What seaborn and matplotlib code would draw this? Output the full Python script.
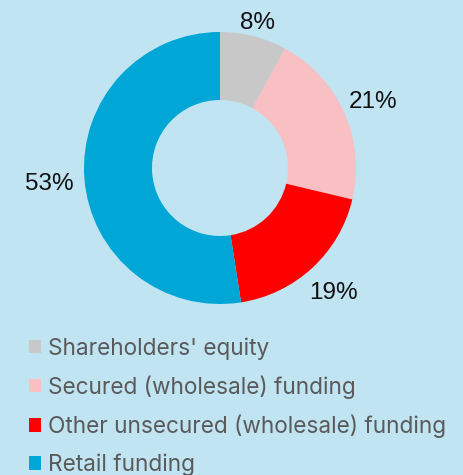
import matplotlib
matplotlib.use("Agg")
import matplotlib.pyplot as plt
from matplotlib.patches import Patch
import seaborn as sns

categories = ["Shareholders' equity", "Secured (wholesale) funding",
              "Other unsecured (wholesale) funding", "Retail funding"]
values = [8, 21, 19, 53]
labels = ["8%", "21%", "19%", "53%"]
colors = ["#C8C8C8", "#F8C0C2", "#FF0000", "#00A6D6"]
label_dist = [1.12, 1.23, 1.23, 1.26]

BG = "#C0E4F2"
sns.set_theme(style="white")
plt.rcParams["font.family"] = ["Liberation Sans", "DejaVu Sans"]

fig = plt.figure(figsize=(4.64, 4.75), dpi=100, facecolor=BG)
ax = fig.add_axes([84 / 464, 1 - 304 / 475, 272 / 464, 272 / 475])
ax.set_facecolor(BG)

wedges, texts = ax.pie(values, labels=labels, colors=colors, startangle=90,
                       counterclock=False, radius=1.0, labeldistance=1.0,
                       wedgeprops=dict(width=0.5, linewidth=0),
                       textprops=dict(fontsize=17.5, color="#111111"))
for t, d in zip(texts, label_dist):
    x, y = t.get_position()
    t.set_position((x * d, y * d))
    t.set_ha("center")
    t.set_va("center_baseline")
ax.set_xlim(-1, 1)
ax.set_ylim(-1, 1)
ax.set_aspect("equal")
ax.axis("off")

handles = [Patch(facecolor=c, edgecolor="none") for c in colors]
leg = fig.legend(handles, categories, loc="upper left",
                 bbox_to_anchor=(29 / 464, 1 - 337 / 475),
                 frameon=False, borderpad=0, borderaxespad=0,
                 handlelength=0.55, handleheight=0.55, handletextpad=0.28,
                 labelspacing=0.69,
                 prop=dict(family=["Inter", "DejaVu Sans"], size=16.3))
for t in leg.get_texts():
    t.set_color("#5A5A5A")

fig.savefig("out.png", dpi=100, facecolor=BG)
